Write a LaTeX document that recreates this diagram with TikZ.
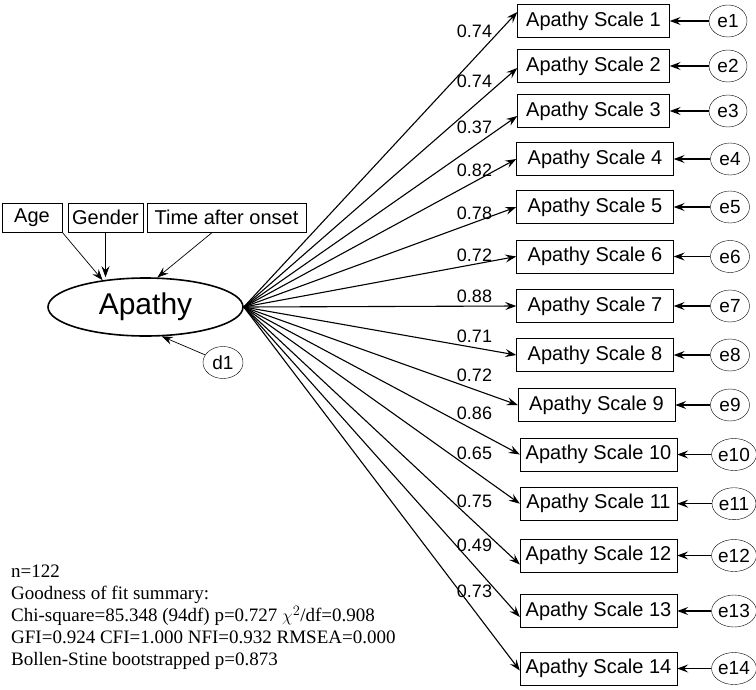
\documentclass[tikz,border=0pt]{standalone}
\usepackage{fontspec}
\setmainfont{Liberation Sans}
\newfontfamily\notefont{Liberation Serif}
\usetikzlibrary{arrows.meta,shapes.geometric}

\begin{document}
\begin{tikzpicture}
      [x=1pt,y=-1pt,
       scaleBox/.style={draw,rectangle,minimum height=33pt,inner xsep=2pt,font=\fontsize{20}{20}\selectfont},
       covBox/.style={draw,rectangle,minimum height=29pt,inner xsep=3pt,font=\fontsize{20}{20}\selectfont},
       errNode/.style={draw,ellipse,inner xsep=0pt,inner ysep=1pt,minimum height=32pt,font=\fontsize{19}{19}\selectfont},
       loadArrow/.style={-{Stealth[length=11pt,width=8pt,inset=4pt]},line width=1.1pt},
       thinArrow/.style={-{Stealth[length=11pt,width=8pt,inset=4pt]},line width=0.7pt},
       loadLabel/.style={font=\fontsize{18}{18}\selectfont,inner sep=0pt}]
      \useasboundingbox (0,0) rectangle (756,689);

      \node[draw,ellipse,line width=1.6pt,minimum width=195pt,minimum height=58pt,inner sep=0pt,
            font=\fontsize{30}{30}\selectfont] (apathy) at (145.5,307) {Apathy};
      \node[covBox,minimum width=60pt] (age) at (32,217.5) {Age};
      \node[covBox,minimum width=75pt] (gender) at (105.5,217.5) {Gender};
      \node[covBox,minimum width=159pt] (onset) at (226.5,217.5) {Time after onset};
      \node[errNode,minimum width=40pt] (d1) at (223,362.5) {d1};

      \draw[thinArrow] (age.south east) -- (apathy.148);
      \draw[thinArrow] (gender.south) -- (gender.south |- apathy.north);
      \draw[thinArrow] ([xshift=-14pt]onset.south) -- (apathy.68);
      \draw[thinArrow] (d1) -- (apathy.-61);

      % observed items and their errors
      \foreach \i/\y/\cx/\w/\ex/\ew in {1/21/593.5/152/728/38,2/66/593.5/152/728/38,3/111/593.5/152/728/38,
        4/159/595/157/730/39,5/207/595/157/730/39,6/256.5/595/157/730/39,7/306/595/157/730/39,
        8/355/595/157/730/39,9/405/596.5/157/730/39,10/454.5/598.5/157/734/44,11/503.7/598.5/157/734/44,
        12/555.5/598.5/157/734/44,13/611/598.5/157/734/44,14/668.5/598.5/157/734/44}
      {
        \node[scaleBox,minimum width=\w pt] (a\i) at (\cx,\y) {Apathy Scale \i};
        \node[errNode,minimum width=\ew pt] (e\i) at (\ex,\y) {e\i};
        \draw[loadArrow] (e\i) -- (a\i.east);
      }

      % loadings
      \foreach \i/\val/\ly/\dy in {1/0.74/31/9,2/0.74/81/-2,3/0.37/127/-5,4/0.82/170/0,5/0.78/213/0,
        6/0.72/255/0,7/0.88/296/0,8/0.71/336/0,9/0.72/375/0,10/0.86/413/0,11/0.65/453/0,
        12/0.75/501/-9,13/0.49/545/-6,14/0.73/591/-2}
      {
        \draw[loadArrow] (apathy.east) -- ([yshift=\dy pt]a\i.west);
        \node[loadLabel] (l\i) at (474.5,\ly) {\val};
      }

      \node[anchor=north west,align=left,inner sep=0pt,font=\notefont\fontsize{19}{22}\selectfont] (fit) at (11,565)
        {n=122\\Goodness of fit summary:\\Chi-square=85.348 (94df) p=0.727 $\chi^{2}$/df=0.908\\
         GFI=0.924 CFI=1.000 NFI=0.932 RMSEA=0.000\\Bollen-Stine bootstrapped p=0.873};
    \end{tikzpicture}
\end{document}
